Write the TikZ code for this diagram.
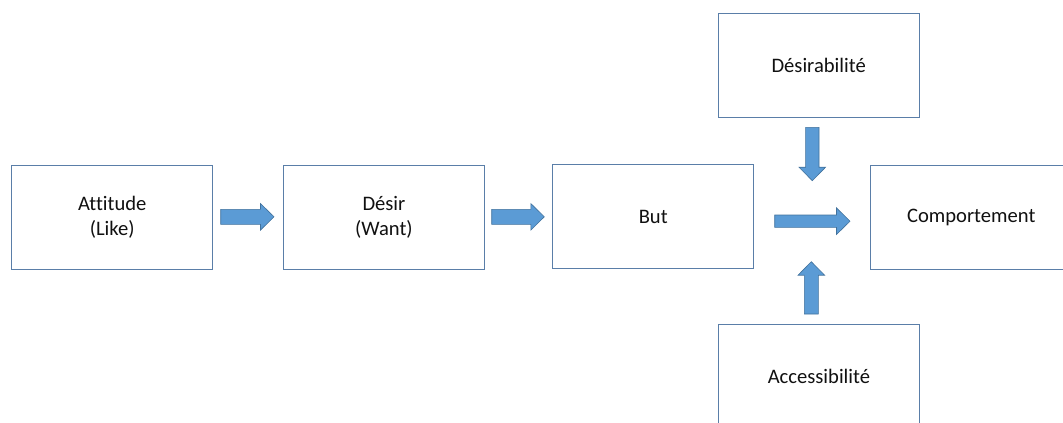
\documentclass[tikz,border=0pt]{standalone}
\usepackage{fontspec}
\setmainfont[Ligatures={NoCommon}]{Carlito}
\definecolor{boxline}{HTML}{5A7EA8}
\definecolor{arrfill}{HTML}{5B9BD5}
\definecolor{arrline}{HTML}{41719C}
\definecolor{txt}{HTML}{111111}
\newcommand\blockarrow[5]{% name, start, angle, length, shaft half width
  \begin{scope}[shift={#2}, rotate=#3]
    \coordinate (#1) at (0,0);
    \filldraw[arrowstyle] (0,-#5) -- ({#4-13.5},-#5) -- ({#4-13.5},-13.3) -- (#4,0)
      -- ({#4-13.5},13.3) -- ({#4-13.5},#5) -- (0,#5) -- cycle;
  \end{scope}}
\begin{document}
\begin{tikzpicture}[x=1pt,y=-1pt,
  stagebox/.style={draw=boxline, line width=0.9pt, fill=white, minimum width=201pt,
    minimum height=104pt, anchor=north west, inner sep=0pt, align=center,
    font=\fontsize{20.6}{25}\selectfont, text=txt},
  arrowstyle/.style={fill=arrfill, draw=arrline, line width=0.6pt}]
\useasboundingbox (0,0) rectangle (1063,423);
\clip (0,0) rectangle (1063,423);
\node[stagebox] (att) at (11.3,165.3) {Attitude\\(Like)};
\node[stagebox] (des) at (283,165.3) {Désir\\(Want)};
\node[stagebox] (but) at (552.3,164.3) {But};
\node[stagebox] (comp) at (870.3,165.3) {Comportement};
\node[stagebox] (dsr) at (717.7,13.3) {Désirabilité};
\node[stagebox] (acc) at (718,324) {Accessibilité};
\blockarrow{a1}{(220.7,216.8)}{0}{53.3}{7.5}
\blockarrow{a2}{(491.7,216.8)}{0}{52.6}{7.5}
\blockarrow{a3}{(774.7,221.2)}{0}{75.3}{6.2}
\blockarrow{a4}{(812.3,127.3)}{-90}{53.4}{6.7}
\blockarrow{a5}{(811.3,314)}{90}{52.3}{7}
\end{tikzpicture}
\end{document}
